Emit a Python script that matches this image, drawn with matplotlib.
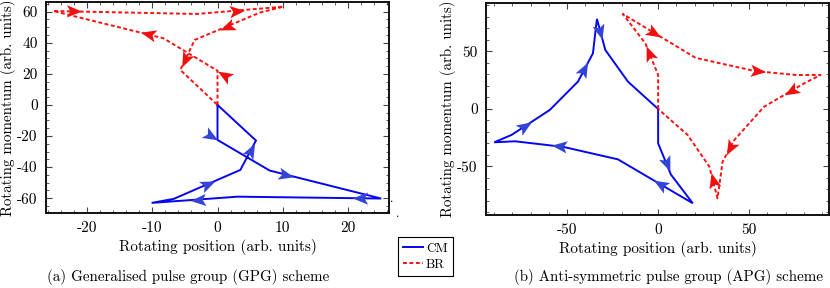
import numpy as np
import matplotlib
matplotlib.use("Agg")
import matplotlib.pyplot as plt
from matplotlib.path import Path
from matplotlib.markers import MarkerStyle
from matplotlib.transforms import Affine2D
from matplotlib.ticker import MultipleLocator
from matplotlib.lines import Line2D

plt.rcParams['font.family'] = ['cmr10', 'DejaVu Serif']
plt.rcParams['axes.unicode_minus'] = False
plt.rcParams['mathtext.fontset'] = 'cm'

# ---------------- data ----------------
# (a) GPG scheme
gpg_cm_x = [0, 0, 8.0, 25.1, 3.1, -10.1, -6.7, 3.5, 5.9, 0]
gpg_cm_y = [0, -22.5, -42.2, -60.2, -59.0, -63.0, -60.4, -41.8, -22.9, 0]
gpg_br_x = [0, 0, -8.3, -25.2, -3.2, 10.1, 6.5, -3.5, -5.7, 0]
gpg_br_y = [0, 22.0, 42.9, 60.4, 58.5, 63.2, 59.4, 41.8, 22.5, 0]
# arrowheads: (segment index, fraction of tip along segment)
gpg_cm_arrows = [(1, 0.0), (2, 0.21), (3, 0.2), (4, 0.55), (6, 0.62), (7, 0.9)]
gpg_br_arrows = [(1, 0.0), (2, 0.21), (3, 0.2), (4, 0.55), (6, 0.62), (7, 0.9)]

# (b) APG scheme
apg_cm_x = [0, 0, 7.0, 19.0, -22.1, -52.0, -78.6, -90.0, -80.5, -59.5, -44.0, -35.8, -33.6, -29.0, -16.6, 0]
apg_cm_y = [0, -29.9, -57.0, -82.0, -43.8, -33.0, -28.1, -29.0, -22.6, -0.9, 23.8, 48.4, 78.3, 51.3, 23.8, 0]
apg_br_x = [0, 0, -7.0, -19.4, 20.5, 53.0, 76.0, 89.2, 80.5, 58.2, 41.8, 35.4, 32.6, 28.1, 16.2, 0]
apg_br_y = [0, 29.6, 57.0, 82.6, 44.5, 33.0, 29.5, 29.6, 22.6, 2.0, -27.0, -45.8, -77.7, -50.1, -22.6, 0]
apg_cm_arrows = [(1, 0.9), (3, 0.52), (5, 0.25), (8, 0.53), (10, 0.67), (12, 0.66)]
apg_br_arrows = [(1, 0.93), (3, 0.52), (5, 0.25), (8, 0.5), (10, 0.67), (12, 0.8)]

xlabel = "Rotating position (arb. units)"
ylabel = "Rotating momentum (arb. units)"
captions = ["(a) Generalised pulse group (GPG) scheme",
            "(b) Anti-symmetric pulse group (APG) scheme"]
legend_labels = ["CM", "BR"]

# ---------------- style ----------------
CM_LINE = '#0505f0'
CM_HEAD = '#3445d6'
BR_LINE = '#ff1010'
BR_HEAD = '#f01010'
DPI = 100
HEAD_MS = 11

fig = plt.figure(figsize=(8.30, 2.88), dpi=DPI)
ax1 = fig.add_axes([46/830, 1-213/288, (389-46)/830, (213-2)/288])
ax2 = fig.add_axes([486/830, 1-215/288, (829-486)/830, (215-2.7)/288])

ax1.set_xlim(-26.3, 26.3)
ax1.set_ylim(-69.5, 66.2)
ax2.set_xlim(-94.5, 93.8)
ax2.set_ylim(-92.2, 92.4)

head_verts = [(1, 0), (-1, 0.8), (-0.55, 0), (-1, -0.8), (1, 0)]
head_codes = [Path.MOVETO, Path.LINETO, Path.LINETO, Path.LINETO, Path.CLOSEPOLY]
head_path = Path(head_verts, head_codes)


def draw_path(ax, xs, ys, arrows, lcolor, hcolor, ls):
    ax.plot(xs, ys, color=lcolor, lw=1.4, ls=ls, solid_joinstyle='miter')
    pts = ax.transData.transform(np.column_stack([xs, ys]))
    half = HEAD_MS * DPI / 72.0 / 2.0
    for seg, f in arrows:
        p0, p1 = pts[seg], pts[seg + 1]
        d = p1 - p0
        L = np.hypot(*d)
        u = d / L
        tip = p0 + f * d
        center = tip - u * half
        ang = np.degrees(np.arctan2(u[1], u[0]))
        cx, cy = ax.transData.inverted().transform(center)
        m = MarkerStyle(head_path, transform=Affine2D().rotate_deg(ang))
        ax.plot([cx], [cy], marker=m, markersize=HEAD_MS, color=hcolor,
                markeredgewidth=0, ls='none', zorder=3)


dash = (0, (2.0, 1.3))
draw_path(ax1, gpg_cm_x, gpg_cm_y, gpg_cm_arrows, CM_LINE, CM_HEAD, '-')
draw_path(ax1, gpg_br_x, gpg_br_y, gpg_br_arrows, BR_LINE, BR_HEAD, dash)
draw_path(ax2, apg_cm_x, apg_cm_y, apg_cm_arrows, CM_LINE, CM_HEAD, '-')
draw_path(ax2, apg_br_x, apg_br_y, apg_br_arrows, BR_LINE, BR_HEAD, dash)

ax1.xaxis.set_major_locator(MultipleLocator(10))
ax1.xaxis.set_minor_locator(MultipleLocator(2))
ax1.yaxis.set_major_locator(MultipleLocator(20))
ax1.yaxis.set_minor_locator(MultipleLocator(5))
ax2.xaxis.set_major_locator(MultipleLocator(50))
ax2.xaxis.set_minor_locator(MultipleLocator(10))
ax2.yaxis.set_major_locator(MultipleLocator(50))
ax2.yaxis.set_minor_locator(MultipleLocator(10))

for ax in (ax1, ax2):
    for s in ax.spines.values():
        s.set_linewidth(1.4)
        s.set_color('#111111')
    ax.tick_params(which='both', direction='in', top=True, right=True,
                   labelsize=11, color='#444444')
    ax.tick_params(which='major', length=4, width=0.8, pad=6)
    ax.tick_params(which='minor', length=2.2, width=0.6)
    ax.set_xlabel(xlabel, fontsize=11, labelpad=3)
    ax.set_ylabel(ylabel, fontsize=10.8)
    ax.yaxis.set_label_coords(-0.088, 0.5)

fig.text(0.2265, 0.038, captions[0], ha='center', va='center', fontsize=10.8)
fig.text(0.805, 0.038, captions[1], ha='center', va='center', fontsize=10.8)
fig.text(391.7/830, 1-205/288, '.', ha='center', va='bottom', fontsize=9)
fig.text(397.3/830, 1-220/288, '.', ha='center', va='bottom', fontsize=9)

handles = [Line2D([], [], color=CM_LINE, lw=1.4, ls='-'),
           Line2D([], [], color=BR_LINE, lw=1.4, ls=dash)]
leg = fig.legend(handles, legend_labels, loc='center',
                 bbox_to_anchor=(425.5/830, 1-256.5/288), fontsize=9.5,
                 handlelength=1.5, handletextpad=0.2, borderpad=0.4,
                 labelspacing=0.3, fancybox=False, framealpha=1,
                 edgecolor='black')
leg.get_frame().set_linewidth(0.8)

fig.savefig('out.png', dpi=DPI)
